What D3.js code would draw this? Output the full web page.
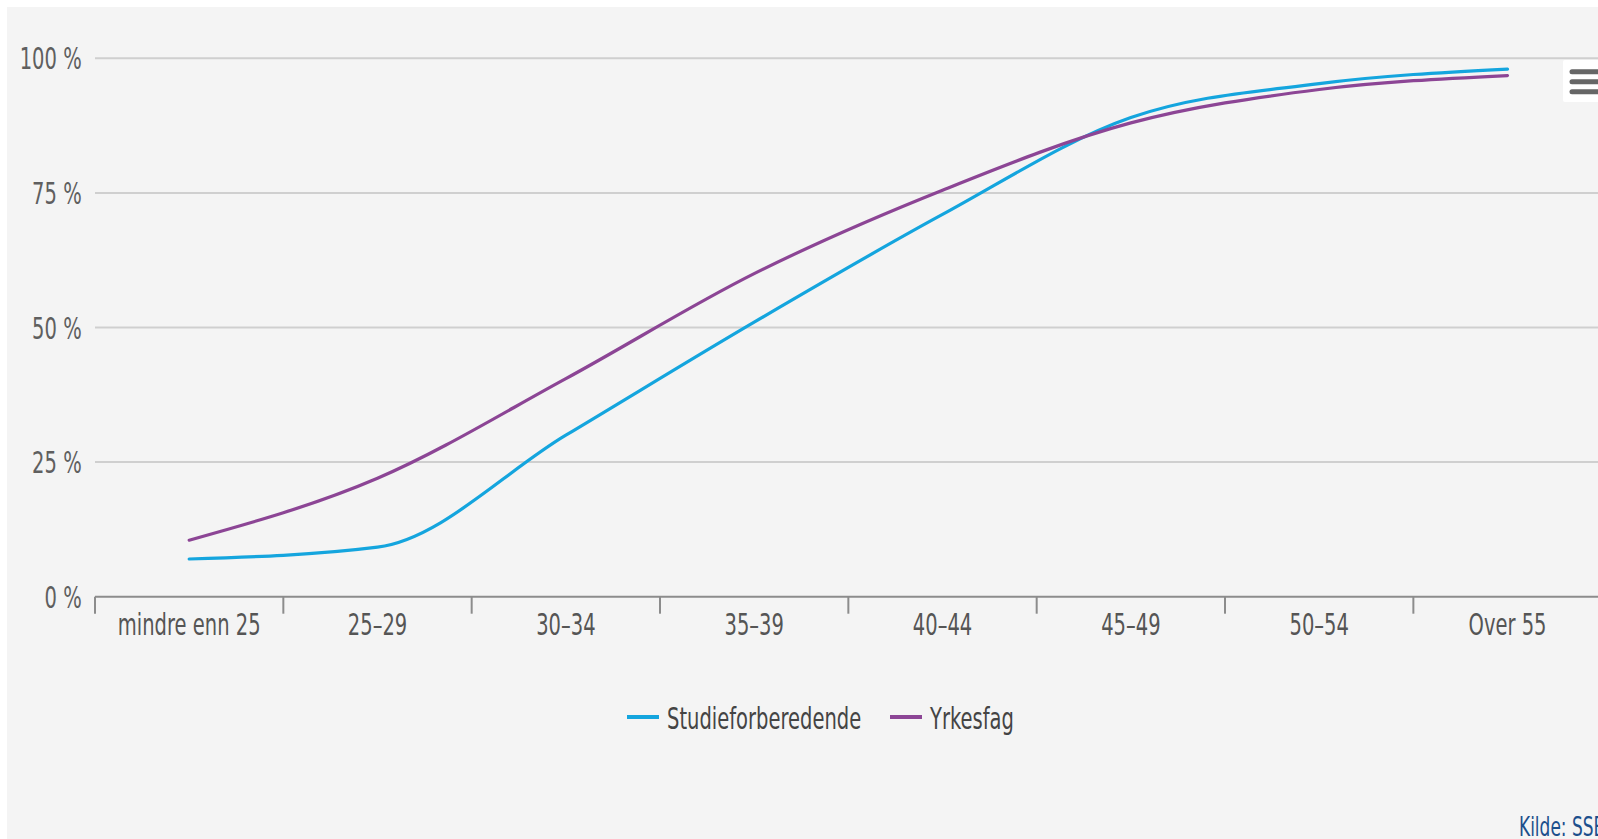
<html>
<head>
<meta charset="utf-8">
<script src="https://cdn.jsdelivr.net/npm/d3@7"></script>
<style>
body { margin: 0; background: #ffffff; overflow: hidden; }
text { font-family: "Liberation Sans Narrow", "DejaVu Sans Condensed", sans-serif; }
</style>
</head>
<body>
<div id="chart"></div>
<script>

var categories = ["mindre enn 25", "25–29", "30–34", "35–39", "40–44", "45–49", "50–54", "Over 55"];
var studieforberedende = [7.0, 9.2, 30.0, 51.0, 71.0, 89.0, 95.3, 98.0];
var yrkesfag = [10.5, 22.0, 40.5, 60.0, 75.5, 88.0, 94.2, 96.8];
var yTicks = [0, 25, 50, 75, 100];

var W = 1598, H = 839;
var plotLeft = 95, plotRight = 1601.7, plotTop = 58.3, plotBottom = 596.7;
var sx = 0.70; // squeeze text horizontally, the source font is condensed

var svg = d3.select("#chart").append("svg")
            .attr("width", W)
            .attr("height", H);

svg.append("rect")
   .attr("x", 7).attr("y", 7)
   .attr("width", W).attr("height", H)
   .attr("fill", "#f4f4f4");

var x = d3.scaleBand().domain(categories).range([plotLeft, plotRight]).padding(0);
var y = d3.scaleLinear().domain([0, 100]).range([plotBottom, plotTop]);
var cx = function(i) { return x(categories[i]) + x.bandwidth() / 2; };

// grid
svg.append("g")
   .selectAll("line")
   .data(yTicks.filter(function(d) { return d > 0; }))
   .enter()
   .append("line")
   .attr("x1", plotLeft).attr("x2", W)
   .attr("y1", function(d) { return y(d); })
   .attr("y2", function(d) { return y(d); })
   .attr("stroke", "#cfcfcf")
   .attr("stroke-width", 2);

// y labels
svg.append("g")
   .selectAll("text")
   .data(yTicks)
   .enter()
   .append("text")
   .attr("transform", function(d) { return "translate(81.7," + (y(d) + 11) + ") scale(" + sx + ",1)"; })
   .attr("text-anchor", "end")
   .attr("fill", "#5f5f5f")
   .style("font-size", "31px")
   .text(function(d) { return d + " %"; });

// x axis line and ticks
var xAxis = svg.append("g").attr("class", "xaxis");
xAxis.append("line")
     .attr("x1", plotLeft).attr("x2", plotRight)
     .attr("y1", plotBottom).attr("y2", plotBottom)
     .attr("stroke", "#8c8c8c")
     .attr("stroke-width", 2);

xAxis.selectAll(".tick")
     .data(categories.concat(["end"]))
     .enter()
     .append("line")
     .attr("class", "tick")
     .attr("x1", function(d, i) { return plotLeft + i * x.bandwidth(); })
     .attr("x2", function(d, i) { return plotLeft + i * x.bandwidth(); })
     .attr("y1", plotBottom).attr("y2", plotBottom + 17)
     .attr("stroke", "#8c8c8c")
     .attr("stroke-width", 2);

xAxis.selectAll(".lbl")
     .data(categories)
     .enter()
     .append("text")
     .attr("class", "lbl")
     .attr("transform", function(d, i) { return "translate(" + cx(i) + ",635) scale(" + sx + ",1)"; })
     .attr("text-anchor", "middle")
     .attr("fill", "#555555")
     .style("font-size", "31px")
     .text(function(d) { return d; });

// series
var series = [
  { name: "Studieforberedende", values: studieforberedende, color: "#14a5de" },
  { name: "Yrkesfag", values: yrkesfag, color: "#8c4595" }
];

var line = d3.line()
             .x(function(d, i) { return cx(i); })
             .y(function(d) { return y(d); })
             .curve(d3.curveMonotoneX);

svg.append("g")
   .selectAll("path")
   .data(series)
   .enter()
   .append("path")
   .attr("d", function(d) { return line(d.values); })
   .attr("fill", "none")
   .attr("stroke", function(d) { return d.color; })
   .attr("stroke-width", 3.2)
   .attr("stroke-linecap", "round");

// legend
var legendX = [627, 890];
var legend = svg.append("g")
                .selectAll("g")
                .data(series)
                .enter()
                .append("g")
                .attr("transform", function(d, i) { return "translate(" + legendX[i] + ",717)"; });

legend.append("line")
      .attr("x1", 0).attr("x2", 32)
      .attr("y1", 0).attr("y2", 0)
      .attr("stroke", function(d) { return d.color; })
      .attr("stroke-width", 4);

legend.append("text")
      .attr("transform", "translate(40,12) scale(" + sx + ",1)")
      .attr("fill", "#444444")
      .style("font-size", "31px")
      .text(function(d) { return d.name; });

// credits (cut at the right edge, as in the source)
svg.append("text")
   .attr("transform", "translate(1519,836) scale(" + sx + ",1)")
   .attr("fill", "#1c4f8c")
   .style("font-size", "27px")
   .text("Kilde: SSB");

// menu button
var menu = svg.append("g");
menu.append("rect")
    .attr("x", 1563).attr("y", 60)
    .attr("width", 50).attr("height", 42)
    .attr("rx", 2)
    .attr("fill", "#ffffff");
menu.selectAll("line")
    .data([71.7, 81.7, 91.7])
    .enter()
    .append("line")
    .attr("x1", 1572).attr("x2", 1600)
    .attr("y1", function(d) { return d; })
    .attr("y2", function(d) { return d; })
    .attr("stroke", "#666666")
    .attr("stroke-width", 5)
    .attr("stroke-linecap", "round");

</script>
</body>
</html>
